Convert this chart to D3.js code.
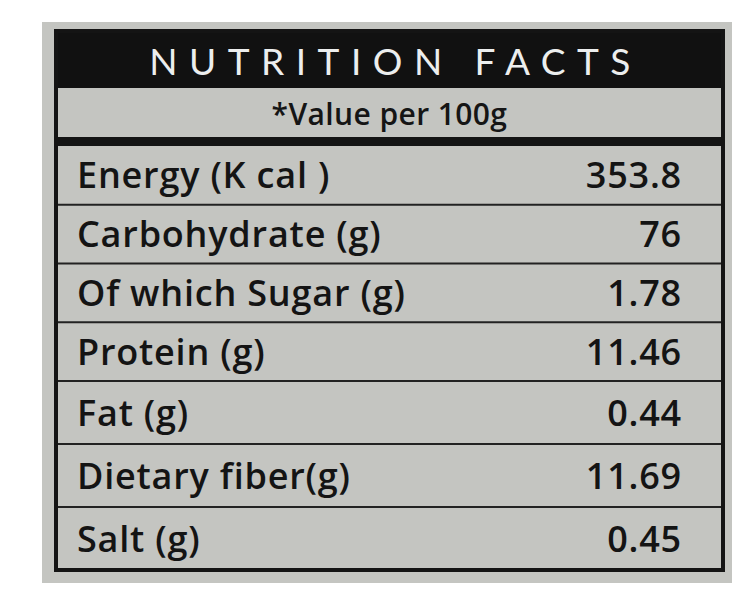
<!DOCTYPE html>
<html>
<head>
<meta charset="utf-8">
<script src="https://cdn.jsdelivr.net/npm/d3@7"></script>
<style>
  body { margin: 0; background: #fff; }
  svg { display: block; }
</style>
</head>
<body>
<script>
var title = "NUTRITION FACTS";
var subtitle = "*Value per 100g";
var nutrients = [
	"Energy (K cal )",
	"Carbohydrate (g)",
	"Of which Sugar (g)",
	"Protein (g)",
	"Fat (g)",
	"Dietary fiber(g)",
	"Salt (g)",
];
var amounts = [353.8, 76, 1.78, 11.46, 0.44, 11.69, 0.45];

var width = 752;
var height = 600;

var svg = d3
	.select("body")
	.append("svg")
	.attr("width", width)
	.attr("height", height);

// label paper (photo area)
svg
	.append("rect")
	.attr("x", 42)
	.attr("y", 22)
	.attr("width", 690)
	.attr("height", 561)
	.style("fill", "#c4c5c1");

var left = 56;
var right = 723;
var mid = (left + right) / 2;

// header bar
svg
	.append("rect")
	.attr("x", left - 1)
	.attr("y", 30)
	.attr("width", right - left + 2)
	.attr("height", 58)
	.style("fill", "#111");

svg
	.append("text")
	.attr("x", mid + 6)
	.attr("y", 75)
	.attr("text-anchor", "middle")
	.style("font-family", "Lato, 'Open Sans', sans-serif")
	.style("font-size", "37px")
	.style("letter-spacing", "11.5px")
	.style("fill", "#eceeee")
	.text(title);

svg
	.append("text")
	.attr("x", mid)
	.attr("y", 125)
	.attr("text-anchor", "middle")
	.style("font-family", "'Open Sans', sans-serif")
	.style("font-size", "30px")
	.style("font-weight", 600)
	.style("letter-spacing", "0.4px")
	.style("fill", "#151515")
	.text(subtitle);

// thick rule under the subtitle box
svg
	.append("rect")
	.attr("x", left)
	.attr("y", 137)
	.attr("width", right - left)
	.attr("height", 9)
	.style("fill", "#141414");

// the photo is a little taller toward the bottom, so rows grow slightly
var y = d3.scaleLinear().domain([0, 4, nutrients.length]).range([146, 381, 570]);

var rows = svg
	.selectAll(".row")
	.data(nutrients)
	.join("g")
	.attr("class", "row")
	.attr("transform", (d, i) => {
		return "translate(0," + y(i) + ")";
	});

rows
	.filter((d, i) => i > 0)
	.append("line")
	.attr("x1", left)
	.attr("x2", right)
	.attr("y1", 0)
	.attr("y2", 0)
	.style("stroke", "#222")
	.style("stroke-width", 2);

function rowMid(i) {
	return (y(i + 1) - y(i)) / 2 + 13;
}

rows
	.append("text")
	.attr("x", 77)
	.attr("y", (d, i) => rowMid(i))
	.style("font-family", "'Open Sans', sans-serif")
	.style("font-size", "36px")
	.style("font-weight", 600)
	.style("letter-spacing", "0.8px")
	.style("fill", "#141414")
	.text((d) => d);

rows
	.append("text")
	.attr("x", 682)
	.attr("y", (d, i) => rowMid(i))
	.attr("text-anchor", "end")
	.style("font-family", "'Open Sans', sans-serif")
	.style("font-size", "36px")
	.style("font-weight", 600)
	.style("letter-spacing", "0.8px")
	.style("fill", "#141414")
	.text((d, i) => amounts[i]);

// outer frame
svg
	.append("rect")
	.attr("x", left)
	.attr("y", 31)
	.attr("width", right - left)
	.attr("height", 539)
	.style("fill", "none")
	.style("stroke", "#141414")
	.style("stroke-width", 4);
</script>
</body>
</html>
